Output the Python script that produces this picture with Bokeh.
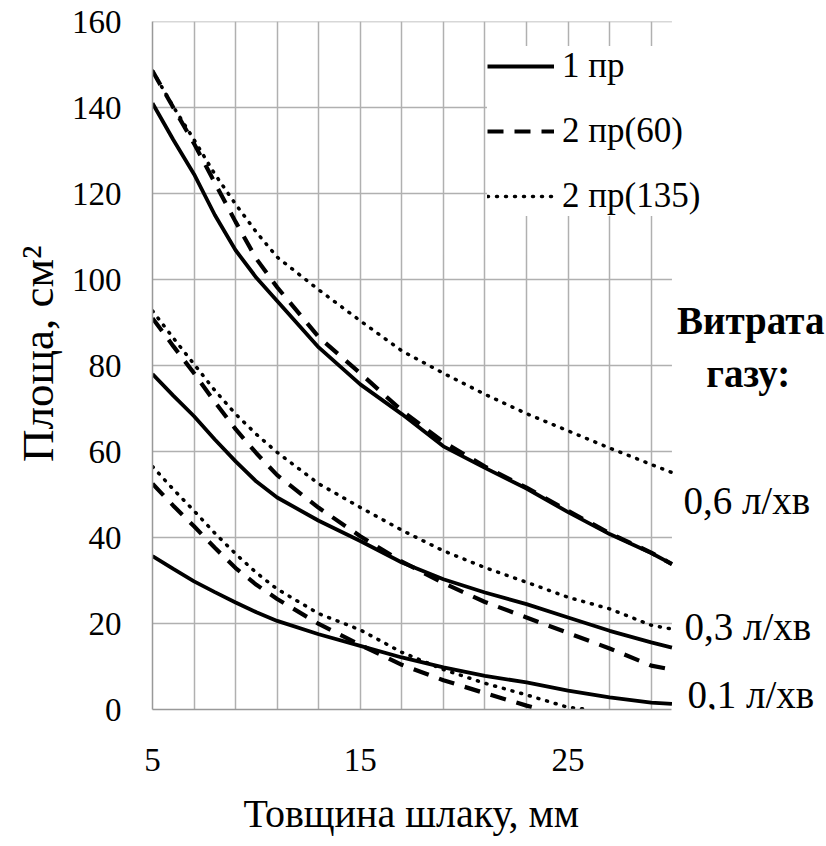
from bokeh.plotting import figure
from bokeh.models import FixedTicker, Legend, LegendItem, Label, Range1d, Title
from bokeh.embed import file_html
from bokeh.resources import INLINE

# ---- data ----
x_full = [5, 6, 7, 8, 9, 10, 11, 13, 15, 17, 19, 21, 23, 25, 27, 29, 30]
s06 = [141.0, 132.5, 124.5, 115.0, 106.8, 100.4, 95.0, 84.2, 75.6, 68.7, 61.2, 56.2, 51.4, 45.9, 40.8, 36.4, 33.8]
d06 = [148.5, 140.0, 131.6, 122.5, 113.4, 104.8, 98.2, 86.6, 78.2, 69.5, 62.2, 56.5, 51.6, 46.2, 41.0, 36.5, 33.8]
o06 = [148.5, 140.2, 132.5, 124.5, 117.5, 111.0, 105.2, 97.6, 90.4, 83.4, 78.2, 73.3, 68.8, 64.8, 60.8, 57.0, 55.1]
s03 = [78.0, 73.0, 68.2, 62.8, 57.7, 53.0, 49.3, 43.9, 39.2, 34.2, 30.3, 27.2, 24.5, 21.4, 18.3, 15.6, 14.4]
d03 = [91.0, 84.5, 78.2, 71.5, 65.2, 59.6, 54.5, 46.9, 40.3, 34.4, 29.4, 25.0, 21.4, 17.8, 14.2, 10.2, 9.3]
o03 = [92.7, 86.4, 80.3, 74.2, 68.7, 64.0, 59.8, 52.5, 47.0, 41.7, 36.9, 33.0, 29.6, 26.1, 23.4, 19.6, 18.7]
s01 = [35.7, 32.7, 29.8, 27.3, 24.9, 22.6, 20.6, 17.5, 14.8, 12.1, 9.8, 7.8, 6.3, 4.4, 2.8, 1.6, 1.3]
x_d01 = [5, 6, 7, 8, 9, 10, 11, 13, 15, 17, 19, 21, 23, 23.7]
d01 = [52.5, 47.4, 42.6, 37.6, 32.9, 29.0, 25.7, 19.9, 15.0, 10.4, 6.8, 3.8, 0.9, 0.0]
x_o01 = [5, 6, 7, 8, 9, 10, 11, 13, 15, 17, 19, 21, 23, 25, 26]
o01 = [56.5, 51.2, 46.2, 41.0, 36.2, 31.8, 28.0, 22.3, 18.5, 13.3, 9.3, 6.1, 3.4, 0.5, 0.0]

x_min, x_max = 5, 30          # data extent of the x axis
x_view_max = 37.39            # frame continues to the right for the annotations
y_min, y_max = 0, 160
x_ticks = [5, 15, 25]
x_grid = [5, 7, 9, 11, 13, 15, 17, 19, 21, 23, 25, 27, 29]
y_ticks = [0, 20, 40, 60, 80, 100, 120, 140, 160]
y_grid = [20, 40, 60, 80, 100, 120, 140, 160]
series_names = ["1 пр", "2 пр(60)", "2 пр(135)"]
flow_labels = ["0,6 л/хв", "0,3 л/хв", "0,1 л/хв"]
flow_y = [48.5, 19.2, 3.5]
flow_x = [30.55, 30.6, 30.75]
x_title = "Товщина шлаку, мм"
y_title = "Площа, см²"

FONT = "Liberation Serif"

p = figure(frame_width=673, frame_height=688, output_backend="svg", toolbar_location=None,
           x_range=Range1d(x_min, x_view_max), y_range=Range1d(y_min, y_max),
           min_border_left=152, min_border_right=0, min_border_top=21, min_border_bottom=120)
p.outline_line_color = None
p.background_fill_color = "white"

p.xaxis.ticker = FixedTicker(ticks=x_ticks)
p.yaxis.ticker = FixedTicker(ticks=y_ticks)
p.xaxis.bounds = (x_min, x_max)
p.xgrid.ticker = FixedTicker(ticks=x_grid)
p.xgrid.grid_line_color = "#b0b0b0"
p.xgrid.grid_line_width = 1.5
p.ygrid.visible = False

# horizontal grid lines limited to the data extent
p.segment(x0=[x_min] * len(y_grid), x1=[x_max] * len(y_grid), y0=y_grid, y1=y_grid,
          line_color="#b0b0b0", line_width=1.5)

for ax in (p.xaxis, p.yaxis):
    ax.major_tick_line_color = None
    ax.minor_tick_line_color = None
    ax.axis_line_color = "#999999"
    ax.axis_line_width = 1.5
    ax.major_label_text_font = FONT
    ax.major_label_text_font_size = "33px"
    ax.major_label_text_color = "black"

p.xaxis.major_label_standoff = 33
p.yaxis.major_label_standoff = 25

p.add_layout(Title(text=x_title, align="left", offset=91, standoff=31,
                   text_font=FONT, text_font_size="40px", text_font_style="normal",
                   text_color="black"), "below")
p.add_layout(Title(text=y_title, align="right", offset=224, standoff=12,
                   text_font=FONT, text_font_size="45px", text_font_style="normal",
                   text_color="black"), "left")

sol = dict(line_color="black", line_width=3.8)
dash = dict(line_color="black", line_width=4.2, line_dash="16 11")
dot = dict(line_color="black", line_width=3.5, line_dash="1 8", line_cap="round")

r_s06 = p.line(x_full, s06, **sol)
r_d06 = p.line(x_full, d06, **dash)
r_o06 = p.line(x_full, o06, **dot)
p.line(x_full, s03, **sol)
p.line(x_full, d03, **dash)
p.line(x_full, o03, **dot)
p.line(x_full, s01, **sol)
p.line(x_d01, d01, **dash)
p.line(x_o01, o01, **dot)

legend = Legend(items=[LegendItem(label=series_names[0], renderers=[r_s06]),
                       LegendItem(label=series_names[1], renderers=[r_d06]),
                       LegendItem(label=series_names[2], renderers=[r_o06])],
                location=(335, 493), orientation="vertical")
legend.label_text_font = FONT
legend.label_text_font_size = "35px"
legend.label_text_color = "black"
legend.glyph_width = 67
legend.glyph_height = 40
legend.label_height = 40
legend.spacing = 25
legend.padding = 10
legend.margin = 0
legend.label_standoff = 8
legend.background_fill_color = "white"
legend.background_fill_alpha = 1.0
legend.border_line_color = None
p.add_layout(legend)

p.add_layout(Label(x=33.79, y=90.4, text="Витрата", text_align="center", text_baseline="middle",
                   text_font=FONT, text_font_size="39px", text_font_style="bold", text_color="black"))
p.add_layout(Label(x=33.67, y=78.1, text="газу:", text_align="center", text_baseline="middle",
                   text_font=FONT, text_font_size="39px", text_font_style="bold", text_color="black"))
for fx, fy, ft in zip(flow_x, flow_y, flow_labels):
    p.add_layout(Label(x=fx, y=fy, text=ft, text_align="left", text_baseline="middle",
                       text_font=FONT, text_font_size="39px", text_color="black"))

open("out.html", "w").write(file_html(p, INLINE))
